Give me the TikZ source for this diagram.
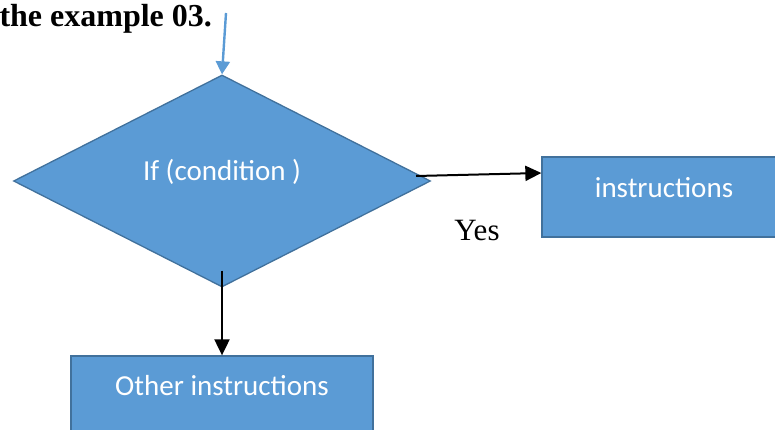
\documentclass[tikz,border=0pt]{standalone}
\usepackage{fontspec}
\setmainfont{Liberation Serif}
\newfontfamily\calibri{Carlito}
\usepackage{tikz}
\usetikzlibrary{calc,shapes.geometric,arrows.meta}

\definecolor{boxblue}{HTML}{5B9BD5}
\definecolor{boxedge}{HTML}{41719C}

\tikzset{
  flowbox/.style={draw=boxedge, fill=boxblue, line width=1.3pt, text=white,
    font=\calibri\fontsize{29}{34}\selectfont, inner sep=0pt,
    text height=20pt, text depth=20pt},
  flowarrow/.style={line width=2pt, -{Triangle[length=16pt,width=15pt]}}
}

\begin{document}
\begin{tikzpicture}[x=1pt,y=-1pt]
                \useasboundingbox (0,0) rectangle (775,430);

                \node[anchor=base west, font=\bfseries\fontsize{32}{36}\selectfont] (title) at (-4,27) {the example 03.};

                \node[flowbox, diamond, aspect=1.97, minimum width=417pt, minimum height=212pt] (cond) at (222,181) {If (condition )};
                \node[flowbox, minimum width=244pt, minimum height=80pt] (instr) at (664,197) {instructions};
                \node[flowbox, minimum width=302pt, minimum height=78pt] (other) at (222,395) {Other instructions};
                \node[anchor=base, font=\fontsize{31}{36}\selectfont] (yes) at (477,240) {Yes};

                \coordinate (start) at (226,13);
                \draw[boxblue, line width=2.4pt, -{Triangle[length=13pt,width=14pt]}] (start) -- (cond.north);
                \draw[flowarrow] ($(cond.east)+(-15,-5)$) -- ($(instr.west)+(0,-24)$);
                \draw[flowarrow] ($(cond.south)+(0,-17)$) -- (other.north);
                % \draw[flowarrow] (cond.west) -- ++(-20,0);

            \end{tikzpicture}
\end{document}
